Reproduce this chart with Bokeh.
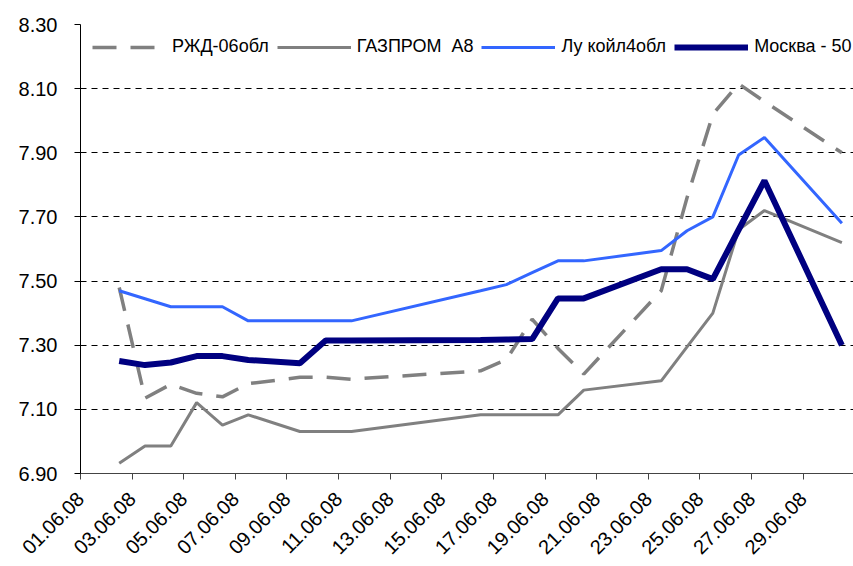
import math
from bokeh.plotting import figure
from bokeh.models import Legend, LegendItem, FixedTicker, Range1d
from bokeh.embed import file_html
from bokeh.resources import INLINE

# ---- data (day of June 2008) ----
days = [2, 3, 4, 5, 6, 7, 9, 10, 11, 16, 17, 18, 19, 20, 23, 24, 25, 26, 27, 30]
rzd = [7.48, 7.135, 7.178, 7.15, 7.139, 7.18, 7.20, 7.20, 7.194, 7.22, 7.255, 7.381,
       7.29, 7.21, 7.47, 7.76, 8.02, 8.115, 8.06, 7.90]
gazprom = [6.932, 6.986, 6.986, 7.121, 7.051, 7.083, 7.031, 7.031, 7.031, 7.083, 7.083,
           7.083, 7.083, 7.160, 7.189, 7.295, 7.40, 7.66, 7.72, 7.62]
lukoil = [7.47, 7.445, 7.42, 7.42, 7.42, 7.376, 7.376, 7.376, 7.376, 7.47, 7.489, 7.526,
          7.563, 7.563, 7.595, 7.657, 7.70, 7.893, 7.948, 7.68]
moscow = [7.251, 7.238, 7.246, 7.266, 7.266, 7.254, 7.244, 7.315, 7.315, 7.316, 7.318,
          7.319, 7.446, 7.446, 7.537, 7.537, 7.506, 7.66, 7.813, 7.30]

series_names = ["РЖД-06обл", "ГАЗПРОМ  A8", "Лу койл4обл", "Москва - 50"]
tick_days = [1, 3, 5, 7, 9, 11, 13, 15, 17, 19, 21, 23, 25, 27, 29]
tick_labels = ["%02d.06.08" % d for d in tick_days]
y_ticks = [6.90, 7.10, 7.30, 7.50, 7.70, 7.90, 8.10, 8.30]
grid_ticks = [7.10, 7.30, 7.50, 7.70, 7.90, 8.10]

FONT = "Liberation Sans"

# tick for a date sits at the start of the day; data points sit in the middle of the day
tick_pos = [d - 0.5 for d in tick_days]

p = figure(width=853, height=566, output_backend="svg", toolbar_location=None,
           x_range=Range1d(0.5, 30.45), y_range=Range1d(6.90, 8.30),
           min_border_left=80, min_border_right=0, min_border_top=24, min_border_bottom=93)
p.outline_line_color = None
p.background_fill_color = "white"

r1 = p.line(days, rzd, line_color="#808080", line_width=3.5, line_dash="24 14")
r2 = p.line(days, gazprom, line_color="#808080", line_width=3)
r3 = p.line(days, lukoil, line_color="#3366FF", line_width=3)
r4 = p.line(days, moscow, line_color="#000080", line_width=6)

# axes
p.xaxis.ticker = FixedTicker(ticks=tick_pos)
p.xaxis.major_label_overrides = {t: l for t, l in zip(tick_pos, tick_labels)}
p.xaxis.major_label_orientation = math.pi / 4
p.xaxis.minor_tick_line_color = None
p.xaxis.major_tick_in = 0
p.xaxis.major_tick_out = 6
p.xaxis.axis_line_color = "#444444"
p.xaxis.major_tick_line_color = "#444444"
p.xaxis.major_label_text_font = FONT
p.xaxis.major_label_text_font_size = "20px"
p.xaxis.major_label_text_color = "black"
p.xaxis.major_label_standoff = 16

p.yaxis.ticker = FixedTicker(ticks=y_ticks)
p.yaxis.major_label_overrides = {t: "%.2f" % t for t in y_ticks}
p.yaxis.minor_tick_line_color = None
p.yaxis.major_tick_in = 0
p.yaxis.major_tick_out = 6
p.yaxis.axis_line_color = "black"
p.yaxis.major_tick_line_color = "black"
p.yaxis.major_label_text_font = FONT
p.yaxis.major_label_text_font_size = "20px"
p.yaxis.major_label_text_color = "black"
p.yaxis.major_label_standoff = 17

p.xgrid.visible = False
p.ygrid.ticker = FixedTicker(ticks=grid_ticks)
p.ygrid.grid_line_color = "black"
p.ygrid.grid_line_dash = "6 5"
p.ygrid.grid_line_width = 1

legend = Legend(items=[LegendItem(label=n, renderers=[r]) for n, r in
                       zip(series_names, [r1, r2, r3, r4])],
                location="top_left", orientation="horizontal",
                margin=12, padding=0, spacing=8, label_standoff=6,
                glyph_width=74, glyph_height=12, label_height=12,
                border_line_color=None, background_fill_alpha=0,
                label_text_font=FONT, label_text_font_size="18px",
                label_text_color="black")
p.add_layout(legend, "center")

open("out.html", "w").write(file_html(p, INLINE))
